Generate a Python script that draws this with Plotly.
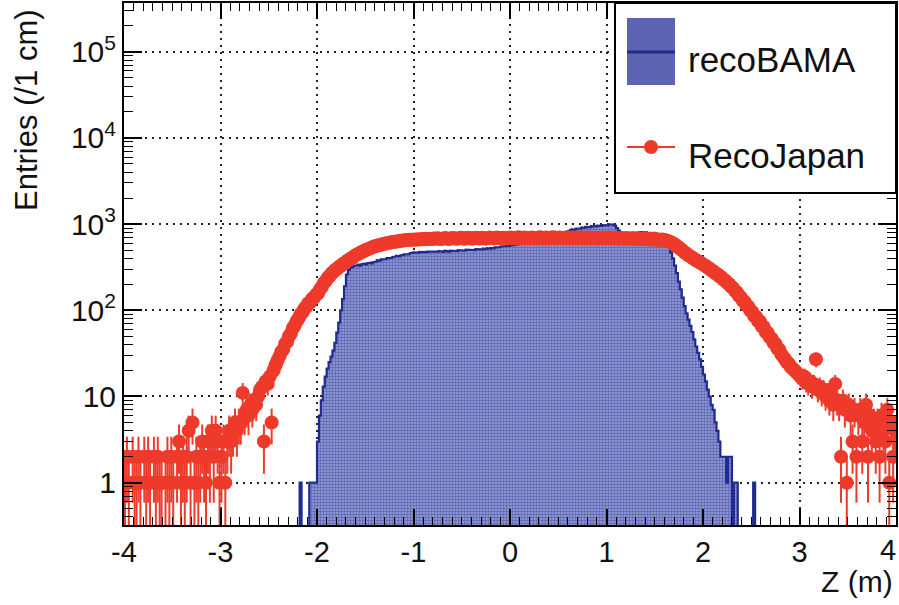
import numpy as np
import plotly.graph_objects as go

# ---------------- data (2 cm bins from -4 m to +4 m) ----------------
Z_MIN = -4.0
BIN_WIDTH = 0.02

reco_bama = [
    0, 0, 0, 0, 0, 0, 0, 0, 0, 0,
    0, 0, 0, 0, 0, 0, 0, 0, 0, 0,
    0, 0, 0, 0, 0, 0, 0, 0, 0, 0,
    0, 0, 0, 0, 0, 0, 0, 0, 0, 0,
    0, 0, 0, 0, 0, 0, 0, 0, 0, 0,
    0, 0, 0, 0, 0, 0, 0, 0, 0, 0,
    0, 0, 0, 0, 0, 0, 0, 0, 0, 0,
    0, 0, 0, 0, 0, 0, 0, 0, 0, 0,
    0, 0, 0, 0, 0, 0, 0, 0, 0, 0,
    0, 1, 0, 0, 0, 0, 1, 1, 1, 1,
    3, 6, 9, 13, 17, 21, 25, 29, 34, 42,
    55, 72, 100, 135, 190, 260, 295, 312, 320, 328,
    332, 338, 330, 342, 348, 340, 352, 358, 350, 362,
    368, 380, 376, 390, 396, 392, 404, 410, 405, 416,
    420, 428, 422, 434, 440, 446, 452, 448, 460, 466,
    470, 462, 468, 475, 470, 478, 472, 480, 476, 482,
    478, 485, 480, 488, 482, 476, 490, 486, 480, 492,
    488, 495, 486, 498, 492, 500, 494, 505, 498, 502,
    508, 500, 512, 506, 515, 510, 520, 514, 525, 518,
    530, 524, 536, 542, 538, 550, 545, 556, 562, 558,
    570, 578, 572, 585, 592, 588, 600, 608, 602, 615,
    622, 630, 625, 640, 648, 642, 655, 662, 670, 665,
    680, 690, 685, 700, 712, 706, 720, 735, 760, 800,
    830, 850, 870, 860, 885, 900, 890, 915, 905, 925,
    935, 920, 945, 955, 940, 960, 970, 955, 975, 985,
    970, 995, 1010, 990, 960, 900, 840, 790, 770, 760,
    765, 755, 770, 790, 800, 785, 795, 805, 790, 795,
    800, 785, 795, 780, 790, 775, 770, 760, 745, 730,
    690, 630, 560, 470, 400, 330, 270, 215, 175, 140,
    112, 92, 78, 66, 56, 46, 38, 32, 27, 22,
    18, 15, 12, 10, 8, 7, 5, 4, 3, 2,
    2, 2, 1, 2, 2, 0, 1, 1, 0, 0,
    0, 0, 0, 0, 0, 0, 1, 0, 0, 0,
    0, 0, 0, 0, 0, 0, 0, 0, 0, 0,
    0, 0, 0, 0, 0, 0, 0, 0, 0, 0,
    0, 0, 0, 0, 0, 0, 0, 0, 0, 0,
    0, 0, 0, 0, 0, 0, 0, 0, 0, 0,
    0, 0, 0, 0, 0, 0, 0, 0, 0, 0,
    0, 0, 0, 0, 0, 0, 0, 0, 0, 0,
    0, 0, 0, 0, 0, 0, 0, 0, 0, 0,
]

reco_japan = [
    1, 2, 1, 0, 2, 1, 1, 2, 1, 0,
    2, 1, 2, 1, 0, 2, 1, 2, 1, 1,
    0, 1, 2, 1, 2, 1, 0, 2, 3, 1,
    2, 1, 2, 4, 1, 5, 1, 2, 1, 2,
    3, 2, 1, 3, 2, 4, 2, 4, 3, 1,
    2, 3, 1, 3, 4, 3, 4, 5, 4, 5,
    5, 11, 6, 7, 6, 8, 7, 9, 8, 10,
    12, 13, 3, 15, 14, 17, 5, 20, 23, 26,
    29, 33, 35, 41, 43, 50, 54, 62, 67, 75,
    81, 90, 95, 105, 110, 121, 124, 136, 140, 152,
    156, 174, 186, 207, 218, 238, 248, 268, 278, 296,
    303, 320, 328, 346, 354, 374, 382, 400, 408, 428,
    440, 452, 466, 478, 490, 504, 512, 524, 536, 548,
    556, 565, 572, 580, 588, 594, 600, 608, 614, 620,
    626, 630, 636, 640, 645, 648, 652, 656, 660, 658,
    664, 660, 668, 664, 672, 666, 674, 670, 678, 672,
    680, 674, 684, 676, 670, 682, 688, 678, 672, 684,
    690, 680, 676, 686, 692, 682, 676, 688, 694, 684,
    678, 690, 696, 684, 680, 692, 686, 678, 690, 698,
    688, 682, 694, 700, 690, 684, 696, 688, 680, 692,
    698, 690, 684, 696, 702, 692, 686, 698, 690, 684,
    694, 700, 690, 684, 696, 704, 694, 686, 698, 692,
    686, 698, 704, 692, 688, 700, 694, 686, 696, 702,
    692, 686, 698, 690, 684, 696, 702, 692, 686, 694,
    700, 690, 684, 696, 688, 680, 694, 700, 688, 682,
    692, 698, 686, 680, 692, 686, 678, 690, 684, 676,
    688, 682, 674, 686, 680, 672, 684, 678, 670, 680,
    674, 666, 676, 668, 660, 670, 662, 654, 664, 656,
    648, 642, 626, 614, 594, 578, 554, 536, 510, 492,
    468, 454, 434, 422, 404, 394, 378, 370, 356, 348,
    334, 326, 312, 304, 290, 282, 268, 262, 248, 242,
    228, 222, 208, 202, 188, 182, 168, 162, 148, 143,
    130, 126, 114, 110, 99, 96, 86, 84, 75, 74,
    65, 64, 56, 55, 49, 47, 42, 41, 36, 35,
    31, 29, 27, 25, 24, 22, 21, 20, 19, 18,
    17, 16, 17, 15, 14, 15, 13, 14, 27, 12,
    13, 11, 12, 10, 11, 9, 10, 8, 14, 9,
    8, 2, 9, 7, 1, 8, 6, 3, 7, 2,
    6, 7, 3, 5, 8, 2, 6, 4, 5, 3,
    5, 2, 6, 4, 3, 7, 1, 5, 2, 4,
]

x_tick_vals = [-4, -3, -2, -1, 0, 1, 2, 3, 4]
x_tick_text = ["-4", "-3", "-2", "-1", "0", "1", "2", "3", "4"]
y_tick_vals = [1, 10, 100, 1000, 10000, 100000]
y_tick_text = ["1", "10", "10<sup>2</sup>", "10<sup>3</sup>", "10<sup>4</sup>", "10<sup>5</sup>"]
legend_labels = ["recoBAMA", "RecoJapan"]
x_title = "Z (m)"
y_title = "Entries (/1 cm)"

# ---------------- styling ----------------
FONT = "Liberation Sans, Arial, Helvetica, sans-serif"
NAVY = "#1f2b8e"
RED = "#ee3a2a"
HATCH_BG = "#9aa1d6"
W, H = 899, 605
ML, MR, MT, MB = 124, 3, 3, 80
PW, PH = W - ML - MR, H - MT - MB


def px(x):
    return (x - ML) / PW


def py(y):
    return (H - MB - y) / PH


n = len(reco_bama)
edges = Z_MIN + BIN_WIDTH * np.arange(n + 1)
centers = 0.5 * (edges[:-1] + edges[1:])

FLOOR = 1e-3
step_x, step_y = [], []
for i, v in enumerate(reco_bama):
    yv = v if v > 0 else FLOOR
    step_x += [edges[i], edges[i + 1]]
    step_y += [yv, yv]
poly_x = step_x + [edges[-1], edges[0]]
poly_y = step_y + [FLOOR, FLOOR]

jy = [v if v > 0 else None for v in reco_japan]
e_plus = [float(np.sqrt(v)) if v > 0 else 0.0 for v in reco_japan]
e_minus = [min(float(np.sqrt(v)), v * 0.999) if v > 0 else 0.0 for v in reco_japan]

fig = go.Figure()
fig.add_trace(go.Scatter(
    x=poly_x, y=poly_y, mode="lines", fill="toself",
    fillcolor=HATCH_BG,
    fillpattern=dict(shape=".", size=3, solidity=0.55, fgcolor=NAVY, bgcolor=HATCH_BG),
    line=dict(color=NAVY, width=2.2), name=legend_labels[0],
    showlegend=False, hoverinfo="skip",
))
fig.add_trace(go.Scatter(
    x=centers, y=jy, mode="markers", name=legend_labels[1],
    marker=dict(color=RED, size=14, line=dict(width=0)),
    error_y=dict(type="data", symmetric=False, array=e_plus, arrayminus=e_minus,
                 color=RED, thickness=2, width=0),
    showlegend=False,
))

y_minor = [k * 10.0 ** d for d in range(-1, 6) for k in range(2, 10)]

# the last x label sits at the page edge, so it is drawn as an annotation
# kept fully inside the page instead of being clipped
shown_x_text = x_tick_text[:-1] + [""]

fig.update_xaxes(
    range=[-4, 4], showline=True, linecolor="black", linewidth=2, mirror="allticks",
    ticks="inside", ticklen=16, tickwidth=1.5, tickcolor="black",
    tickmode="array", tickvals=x_tick_vals, ticktext=shown_x_text,
    tickfont=dict(family=FONT, size=29, color="#111"),
    automargin=False,
    showgrid=True, gridcolor="#222", griddash="2px,5px", gridwidth=1.5, zeroline=False,
    minor=dict(ticks="inside", ticklen=8, tickwidth=1.2, tickcolor="black",
               tickmode="linear", tick0=-4, dtick=0.1, showgrid=False),
)
fig.update_yaxes(
    type="log", range=[-0.491, 5.565], showline=True, linecolor="black", linewidth=2,
    mirror="allticks", ticks="inside", ticklen=18, tickwidth=1.5, tickcolor="black",
    tickmode="array", tickvals=y_tick_vals, ticktext=y_tick_text,
    tickfont=dict(family=FONT, size=30, color="#111"), automargin=False,
    showgrid=True, gridcolor="#222", griddash="2px,5px", gridwidth=1.5, zeroline=False,
    minor=dict(ticks="inside", ticklen=9, tickwidth=1.2, tickcolor="black",
               tickmode="array", tickvals=y_minor, showgrid=False),
)

shapes = [
    # legend box
    dict(type="rect", xref="paper", yref="paper", x0=px(615), x1=px(896), y0=py(193), y1=py(3),
         fillcolor="white", line=dict(color="black", width=2), layer="above"),
    # recoBAMA swatch
    dict(type="rect", xref="paper", yref="paper", x0=px(627), x1=px(675), y0=py(85), y1=py(18),
         fillcolor="#5c64b2", line=dict(width=0), layer="above"),
    dict(type="line", xref="paper", yref="paper", x0=px(627), x1=px(675), y0=py(52), y1=py(52),
         line=dict(color=NAVY, width=3), layer="above"),
    # RecoJapan swatch
    dict(type="line", xref="paper", yref="paper", x0=px(627), x1=px(675), y0=py(147), y1=py(147),
         line=dict(color=RED, width=2), layer="above"),
    dict(type="circle", xref="paper", yref="paper", x0=px(644), x1=px(658),
         y0=py(154), y1=py(140), fillcolor=RED, line=dict(width=0), layer="above"),
]

annotations = [
    dict(text=legend_labels[0], xref="paper", yref="paper", x=px(686), y=py(59),
         xanchor="left", yanchor="middle", showarrow=False,
         font=dict(family=FONT, size=35, color="#111")),
    dict(text=legend_labels[1], xref="paper", yref="paper", x=px(686), y=py(155),
         xanchor="left", yanchor="middle", showarrow=False,
         font=dict(family=FONT, size=35, color="#111")),
    dict(text=x_tick_text[-1], x=x_tick_vals[-1], xref="x", yref="paper", y=py(550),
         xanchor="right", xshift=2, yanchor="middle", showarrow=False,
         font=dict(family=FONT, size=29, color="#111")),
    dict(text=x_title, xref="paper", yref="paper", x=px(895), y=py(581),
         xanchor="right", yanchor="middle", showarrow=False,
         font=dict(family=FONT, size=30, color="#111")),
    dict(text=y_title, xref="paper", yref="paper", x=px(27), y=py(110),
         xanchor="center", yanchor="middle", showarrow=False, textangle=-90,
         font=dict(family=FONT, size=31, color="#111")),
]

fig.update_layout(
    width=W, height=H, margin=dict(l=ML, r=MR, t=MT, b=MB, pad=0, autoexpand=False),
    paper_bgcolor="white", plot_bgcolor="white",
    shapes=shapes, annotations=annotations, showlegend=False,
)

fig.write_html("out.html")
